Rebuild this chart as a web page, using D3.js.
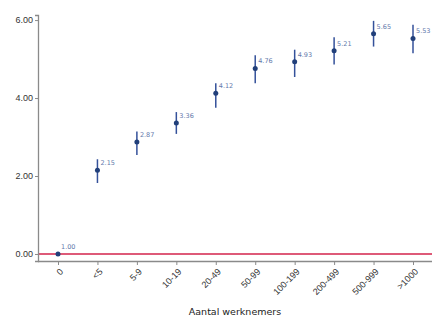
<!DOCTYPE html>
<html>
<head>
<meta charset="utf-8">
<script src="https://cdn.jsdelivr.net/npm/d3@7"></script>
<style>
  html, body { margin: 0; padding: 0; background: #fff; }
  svg { display: block; font-family: "DejaVu Sans", "Liberation Sans", sans-serif; }
</style>
</head>
<body>
<svg id="chart" width="432" height="321"></svg>
<script>
// Firm-size categories and estimated effects with 95% intervals
const categories = ["0", "<5", "5-9", "10-19", "20-49", "50-99", "100-199", "200-499", "500-999", ">1000"];
const estimates  = [0, 2.15, 2.87, 3.36, 4.12, 4.76, 4.93, 5.21, 5.65, 5.53];
const lowerCI    = [0, 1.82, 2.54, 3.08, 3.75, 4.38, 4.54, 4.86, 5.32, 5.15];
const upperCI    = [0, 2.43, 3.14, 3.64, 4.38, 5.10, 5.24, 5.56, 5.98, 5.88];
const pointLabels = ["1.00", "2.15", "2.87", "3.36", "4.12", "4.76", "4.93", "5.21", "5.65", "5.53"];
const yTicks = [0, 2, 4, 6];
const xTitle = "Aantal werknemers";

const svg = d3.select("#chart");
const axisLeftX = 38, axisBottomY = 261;

const x = d3.scalePoint().domain(categories).range([58, 413]);
const y = d3.scaleLinear().domain([-0.18, 6.13]).range([axisBottomY, 15]);

// reference line at zero
svg.append("line")
  .attr("x1", axisLeftX).attr("x2", 432)
  .attr("y1", y(0)).attr("y2", y(0))
  .attr("stroke", "#de5a78").attr("stroke-width", 2);

// y axis
const yAxis = svg.append("g")
  .attr("transform", `translate(${axisLeftX},0)`)
  .call(d3.axisLeft(y).tickValues(yTicks).tickFormat(d3.format(".2f")).tickSize(3).tickPadding(2));
yAxis.select(".domain").attr("stroke", "#8a8a8a").attr("stroke-width", 1.3);
yAxis.selectAll(".tick line").attr("stroke", "#8a8a8a");
yAxis.selectAll("text").attr("font-size", 9).attr("fill", "#333");

// x axis
const xAxis = svg.append("g")
  .attr("transform", `translate(0,${axisBottomY})`)
  .call(d3.axisBottom(x).tickSize(4).tickSizeOuter(0));
xAxis.select(".domain").attr("stroke", "#8a8a8a").attr("stroke-width", 1.3)
  .attr("d", `M${axisLeftX},0.5H432`);
xAxis.selectAll(".tick line").attr("stroke", "#8a8a8a");
xAxis.selectAll("text")
  .attr("font-size", 9).attr("fill", "#333")
  .attr("text-anchor", "end")
  .attr("dy", "0.35em")
  .attr("transform", "translate(3,9) rotate(-45)")
  .attr("y", 0).attr("x", 0);

// axis title
svg.append("text")
  .attr("x", 235).attr("y", 315)
  .attr("text-anchor", "middle")
  .attr("font-size", 9.5).attr("fill", "#222")
  .text(xTitle);

const idx = d3.range(categories.length);

// confidence intervals
svg.append("g").selectAll("line").data(idx).join("line")
  .attr("x1", i => x(categories[i])).attr("x2", i => x(categories[i]))
  .attr("y1", i => y(lowerCI[i])).attr("y2", i => y(upperCI[i]))
  .attr("stroke", "#34519a").attr("stroke-width", 1.5);

// point estimates
svg.append("g").selectAll("circle").data(idx).join("circle")
  .attr("cx", i => x(categories[i])).attr("cy", i => y(estimates[i]))
  .attr("r", 2.5).attr("fill", "#213f7a");

// value labels
svg.append("g").selectAll("text").data(idx).join("text")
  .attr("x", i => x(categories[i]) + 3)
  .attr("y", i => y(estimates[i]) - 5)
  .attr("font-size", 6.5).attr("fill", "#6379ab")
  .text(i => pointLabels[i]);
</script>
</body>
</html>
